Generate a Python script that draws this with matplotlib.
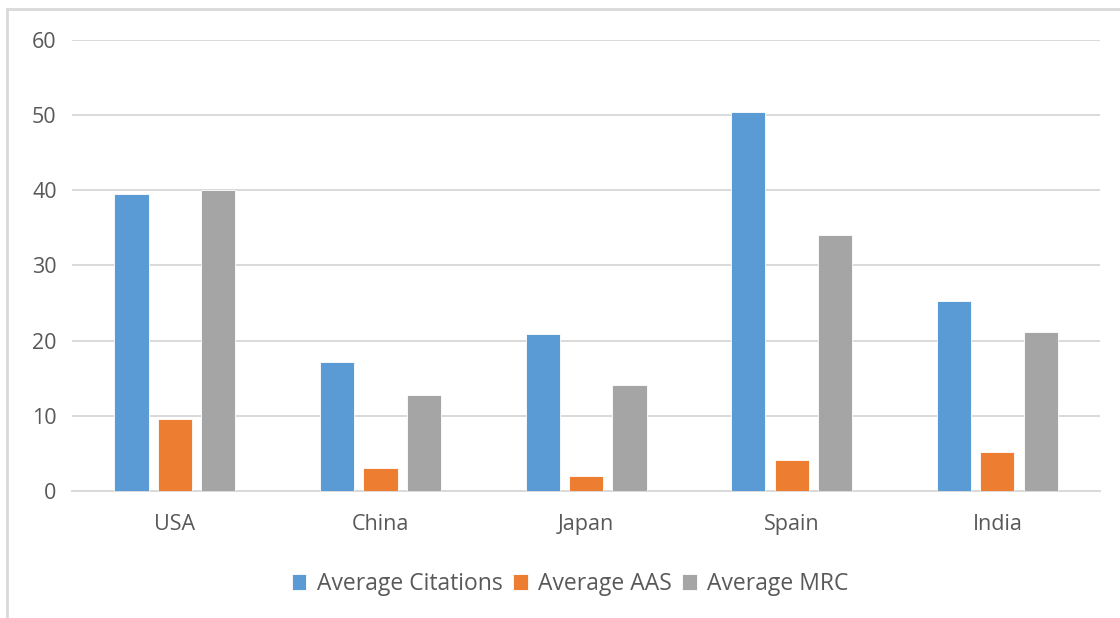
import matplotlib.pyplot as plt
import numpy as np
from matplotlib.lines import Line2D

plt.rcParams['font.family'] = ['Open Sans', 'DejaVu Sans']

countries = ['USA', 'China', 'Japan', 'Spain', 'India']
avg_citations = [39.5, 17.1, 20.9, 50.5, 25.3]
avg_aas = [9.6, 3.0, 2.0, 4.1, 5.2]
avg_mrc = [40.0, 12.7, 14.1, 34.0, 21.2]

series = [
    ('Average Citations', avg_citations, '#5b9bd5'),
    ('Average AAS', avg_aas, '#ed7d31'),
    ('Average MRC', avg_mrc, '#a5a5a5'),
]

fig = plt.figure(figsize=(11.2, 6.18), dpi=100)
ax = fig.add_axes([0.0643, 0.206, 0.918, 0.729])

x = np.arange(len(countries))
step = 0.211
width = 0.166
for i, (name, vals, color) in enumerate(series):
    ax.bar(x + (i - 1) * step, vals, width, color=color, label=name,
           edgecolor='white', linewidth=0.6, zorder=3)

ax.set_xlim(-0.5, len(countries) - 0.5)
ax.set_ylim(0, 60)
ax.set_yticks(np.arange(0, 61, 10))
ax.set_xticks(x)
ax.set_xticklabels(countries)
ax.grid(axis='y', color='#d9d9d9', linewidth=1.4, zorder=0)
for s in ['top', 'right', 'left']:
    ax.spines[s].set_visible(False)
ax.spines['bottom'].set_color('#d9d9d9')
ax.spines['bottom'].set_linewidth(1.4)
ax.tick_params(axis='both', length=0, labelsize=15.5, colors='#595959')
ax.tick_params(axis='y', pad=11)
ax.tick_params(axis='x', pad=17)

leg = fig.legend(loc='center', bbox_to_anchor=(0.509, 0.055), ncol=3,
                 frameon=False, fontsize=16.5, handlelength=0.65,
                 handleheight=0.65, handletextpad=0.45, columnspacing=0.45)
for t in leg.get_texts():
    t.set_color('#595959')

# light frame around the chart area
fig.add_artist(Line2D([7 / 1120, 1], [1 - 9 / 618, 1 - 9 / 618],
                      transform=fig.transFigure, color='#d9d9d9', linewidth=2))
fig.add_artist(Line2D([7 / 1120, 7 / 1120], [0, 1 - 9 / 618],
                      transform=fig.transFigure, color='#d9d9d9', linewidth=2))

fig.savefig('out.png', dpi=100, facecolor='white')
